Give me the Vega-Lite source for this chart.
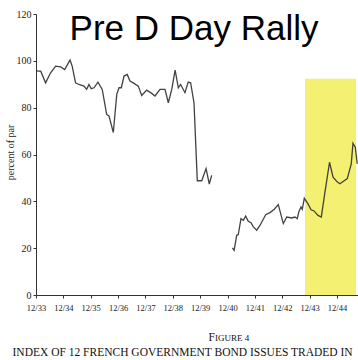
{
  "$schema": "https://vega.github.io/schema/vega-lite/v6.json",
  "width": 322,
  "height": 281,
  "autosize": "none",
  "padding": {"left": 36, "top": 14, "right": 0, "bottom": 65},
  "background": "white",
  "title": {
    "text": "Pre D Day Rally",
    "font": "Liberation Sans",
    "fontSize": 35,
    "fontWeight": "normal",
    "color": "#000000",
    "anchor": "middle",
    "frame": "group",
    "orient": "top",
    "baseline": "alphabetic",
    "offset": -28,
    "dx": -3,
    "dy": 38
  },
  "config": {
    "view": {"stroke": null},
    "axis": {"grid": false},
    "axisX": {"labelOverlap": false, "labelSeparation": 0}
  },
  "layer": [
    {
      "data": {"values": [{"start": "1943-10-01", "end": "1945-08-12", "lo": 0, "hi": 92.3}]},
      "mark": {"type": "rect", "color": "#f4f072"},
      "encoding": {
        "x": {"field": "start", "type": "temporal"},
        "x2": {"field": "end"},
        "y": {"field": "lo", "type": "quantitative"},
        "y2": {"field": "hi"}
      }
    },
    {
      "data": {"values": [
        {"date": "1933-12-05", "v": 95.8, "seg": 1},
        {"date": "1934-01-01", "v": 95.6, "seg": 1},
        {"date": "1934-02-02", "v": 95.6, "seg": 1},
        {"date": "1934-04-08", "v": 90.6, "seg": 1},
        {"date": "1934-06-14", "v": 94.9, "seg": 1},
        {"date": "1934-08-20", "v": 97.7, "seg": 1},
        {"date": "1934-10-26", "v": 97.4, "seg": 1},
        {"date": "1934-12-19", "v": 96.3, "seg": 1},
        {"date": "1935-02-28", "v": 100.3, "seg": 1},
        {"date": "1935-03-29", "v": 97.7, "seg": 1},
        {"date": "1935-05-13", "v": 90.6, "seg": 1},
        {"date": "1935-06-27", "v": 89.9, "seg": 1},
        {"date": "1935-09-02", "v": 89.2, "seg": 1},
        {"date": "1935-10-08", "v": 87.8, "seg": 1},
        {"date": "1935-11-08", "v": 89.9, "seg": 1},
        {"date": "1935-12-08", "v": 88.1, "seg": 1},
        {"date": "1936-01-14", "v": 88.5, "seg": 1},
        {"date": "1936-03-07", "v": 90.9, "seg": 1},
        {"date": "1936-05-03", "v": 87.8, "seg": 1},
        {"date": "1936-07-01", "v": 77.1, "seg": 1},
        {"date": "1936-08-01", "v": 76.5, "seg": 1},
        {"date": "1936-09-28", "v": 69.4, "seg": 1},
        {"date": "1936-11-13", "v": 85.7, "seg": 1},
        {"date": "1936-12-13", "v": 88.5, "seg": 1},
        {"date": "1937-01-13", "v": 88.5, "seg": 1},
        {"date": "1937-02-18", "v": 93.5, "seg": 1},
        {"date": "1937-04-02", "v": 94.2, "seg": 1},
        {"date": "1937-05-08", "v": 91.4, "seg": 1},
        {"date": "1937-06-21", "v": 90.6, "seg": 1},
        {"date": "1937-08-27", "v": 89.2, "seg": 1},
        {"date": "1937-10-12", "v": 85.2, "seg": 1},
        {"date": "1937-12-17", "v": 87.5, "seg": 1},
        {"date": "1938-02-23", "v": 86.1, "seg": 1},
        {"date": "1938-04-07", "v": 85.0, "seg": 1},
        {"date": "1938-06-13", "v": 87.8, "seg": 1},
        {"date": "1938-08-19", "v": 87.8, "seg": 1},
        {"date": "1938-10-02", "v": 82.1, "seg": 1},
        {"date": "1938-11-17", "v": 87.8, "seg": 1},
        {"date": "1939-01-01", "v": 96.0, "seg": 1},
        {"date": "1939-02-13", "v": 88.5, "seg": 1},
        {"date": "1939-03-15", "v": 89.9, "seg": 1},
        {"date": "1939-05-12", "v": 86.4, "seg": 1},
        {"date": "1939-06-25", "v": 90.9, "seg": 1},
        {"date": "1939-07-27", "v": 90.6, "seg": 1},
        {"date": "1939-09-10", "v": 82.1, "seg": 1},
        {"date": "1939-10-24", "v": 48.8, "seg": 1},
        {"date": "1939-12-22", "v": 48.8, "seg": 1},
        {"date": "1940-02-18", "v": 54.0, "seg": 1},
        {"date": "1940-04-01", "v": 47.4, "seg": 1},
        {"date": "1940-05-03", "v": 51.1, "seg": 1},
        {"date": "1941-02-04", "v": 20.1, "seg": 2},
        {"date": "1941-02-26", "v": 19.1, "seg": 2},
        {"date": "1941-04-02", "v": 25.5, "seg": 2},
        {"date": "1941-04-23", "v": 25.8, "seg": 2},
        {"date": "1941-05-29", "v": 32.6, "seg": 2},
        {"date": "1941-06-29", "v": 31.9, "seg": 2},
        {"date": "1941-07-30", "v": 33.7, "seg": 2},
        {"date": "1941-09-04", "v": 31.5, "seg": 2},
        {"date": "1941-10-10", "v": 30.9, "seg": 2},
        {"date": "1941-11-10", "v": 29.1, "seg": 2},
        {"date": "1941-12-25", "v": 27.7, "seg": 2},
        {"date": "1942-02-08", "v": 29.8, "seg": 2},
        {"date": "1942-04-24", "v": 34.3, "seg": 2},
        {"date": "1942-06-20", "v": 35.2, "seg": 2},
        {"date": "1942-08-17", "v": 36.6, "seg": 2},
        {"date": "1942-10-09", "v": 38.6, "seg": 2},
        {"date": "1942-12-15", "v": 30.5, "seg": 2},
        {"date": "1943-01-30", "v": 33.3, "seg": 2},
        {"date": "1943-04-05", "v": 32.9, "seg": 2},
        {"date": "1943-05-19", "v": 33.3, "seg": 2},
        {"date": "1943-06-19", "v": 32.6, "seg": 2},
        {"date": "1943-07-12", "v": 35.7, "seg": 2},
        {"date": "1943-08-08", "v": 37.6, "seg": 2},
        {"date": "1943-08-25", "v": 36.6, "seg": 2},
        {"date": "1943-09-21", "v": 41.3, "seg": 2},
        {"date": "1943-11-06", "v": 39.1, "seg": 2},
        {"date": "1943-12-20", "v": 36.4, "seg": 2},
        {"date": "1944-01-29", "v": 35.9, "seg": 2},
        {"date": "1944-03-22", "v": 34.0, "seg": 2},
        {"date": "1944-05-05", "v": 33.3, "seg": 2},
        {"date": "1944-06-20", "v": 43.3, "seg": 2},
        {"date": "1944-08-23", "v": 56.7, "seg": 2},
        {"date": "1944-10-09", "v": 50.3, "seg": 2},
        {"date": "1944-12-06", "v": 48.2, "seg": 2},
        {"date": "1945-01-07", "v": 47.5, "seg": 2},
        {"date": "1945-02-21", "v": 48.5, "seg": 2},
        {"date": "1945-04-17", "v": 49.7, "seg": 2},
        {"date": "1945-06-09", "v": 56.0, "seg": 2},
        {"date": "1945-07-02", "v": 64.8, "seg": 2},
        {"date": "1945-08-02", "v": 63.1, "seg": 2},
        {"date": "1945-08-28", "v": 56.0, "seg": 2}
      ]},
      "mark": {"type": "line", "color": "#2e2e2e", "strokeWidth": 1.3, "opacity": 0.9, "clip": true},
      "encoding": {
        "x": {
          "field": "date",
          "type": "temporal",
          "scale": {"domain": [{"year": 1933, "month": 12, "date": 1}, {"year": 1945, "month": 9, "date": 7}]},
          "axis": {
            "tickCount": {"interval": "year", "step": 1},
            "values": [
              {"year": 1933, "month": 12, "date": 1},
              {"year": 1934, "month": 12, "date": 1},
              {"year": 1935, "month": 12, "date": 1},
              {"year": 1936, "month": 12, "date": 1},
              {"year": 1937, "month": 12, "date": 1},
              {"year": 1938, "month": 12, "date": 1},
              {"year": 1939, "month": 12, "date": 1},
              {"year": 1940, "month": 12, "date": 1},
              {"year": 1941, "month": 12, "date": 1},
              {"year": 1942, "month": 12, "date": 1},
              {"year": 1943, "month": 12, "date": 1},
              {"year": 1944, "month": 12, "date": 1}
            ],
            "format": "%m/%y",
            "labelFont": "Liberation Serif",
            "labelFontSize": 8.5,
            "labelColor": "#222222",
            "labelPadding": 5,
            "labelFlush": false,
            "labelOverlap": false,
            "labelSeparation": 0,
            "labelBound": false,
            "tickSize": 3,
            "tickColor": "#333333",
            "domainColor": "#333333",
            "title": "INDEX OF 12 FRENCH GOVERNMENT BOND ISSUES TRADED IN",
            "titleFont": "Liberation Serif",
            "titleFontSize": 11.5,
            "titleFontWeight": "normal",
            "titleColor": "#111111",
            "titleAnchor": "start",
            "titleAlign": "left",
            "titleBaseline": "alphabetic",
            "titleX": -24,
            "titleY": 60
          }
        },
        "y": {
          "field": "v",
          "type": "quantitative",
          "scale": {"domain": [0, 120], "nice": false},
          "axis": {
            "values": [0, 20, 40, 60, 80, 100, 120],
            "labelFont": "Liberation Serif",
            "labelFontSize": 10,
            "labelColor": "#222222",
            "labelPadding": 2,
            "tickSize": 3,
            "tickColor": "#333333",
            "domainColor": "#333333",
            "title": "percent of par",
            "titleFont": "Liberation Serif",
            "titleFontSize": 10,
            "titleFontWeight": "normal",
            "titleColor": "#222222",
            "titleAngle": -90,
            "titleAlign": "center",
            "titleBaseline": "middle",
            "titleX": -26,
            "titleY": 138
          }
        },
        "detail": {"field": "seg", "type": "nominal"}
      }
    },
    {
      "data": {"values": [{"t": "F"}]},
      "mark": {"type": "text", "font": "Liberation Serif", "fontSize": 11.5, "align": "right", "baseline": "alphabetic", "color": "#111111"},
      "encoding": {
        "text": {"field": "t", "type": "nominal"},
        "x": {"datum": {"year": 1940, "month": 6, "date": 16}, "type": "temporal"},
        "y": {"datum": -19.8, "type": "quantitative"}
      }
    },
    {
      "data": {"values": [{"t": "IGURE 4"}]},
      "mark": {"type": "text", "font": "Liberation Serif", "fontSize": 9, "align": "left", "baseline": "alphabetic", "color": "#111111"},
      "encoding": {
        "text": {"field": "t", "type": "nominal"},
        "x": {"datum": {"year": 1940, "month": 6, "date": 16}, "type": "temporal"},
        "y": {"datum": -19.8, "type": "quantitative"}
      }
    }
  ]
}
